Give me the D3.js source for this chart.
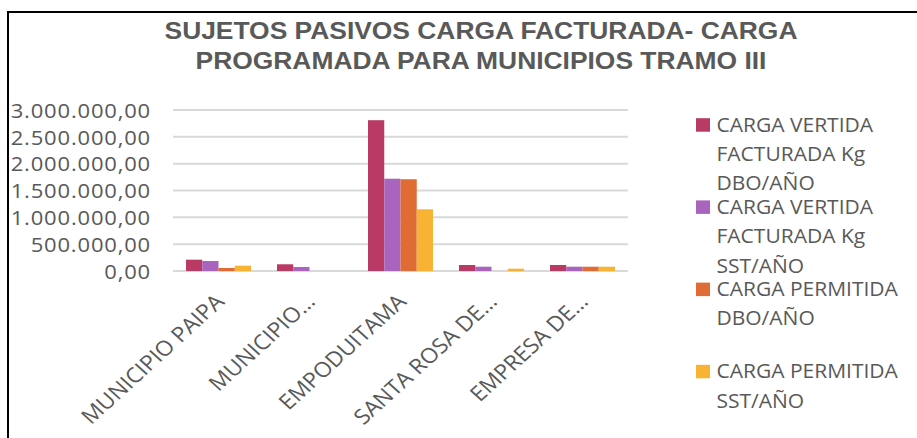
<!DOCTYPE html>
<html>
<head>
<meta charset="utf-8">
<script src="https://cdn.jsdelivr.net/npm/d3@7"></script>
<style>
  html, body { margin: 0; padding: 0; background: #fff; }
  svg { display: block; }
</style>
</head>
<body>
<div id="chart"></div>
<script>
const titleLines = ["SUJETOS PASIVOS CARGA FACTURADA- CARGA", "PROGRAMADA PARA MUNICIPIOS TRAMO III"];
const categories = ["MUNICIPIO PAIPA", "MUNICIPIO…", "EMPODUITAMA", "SANTA ROSA DE…", "EMPRESA DE…"];
const seriesNames = [
  "CARGA VERTIDA FACTURADA Kg DBO/AÑO",
  "CARGA VERTIDA FACTURADA Kg SST/AÑO",
  "CARGA PERMITIDA DBO/AÑO",
  "CARGA PERMITIDA SST/AÑO"
];
const seriesColors = ["#B83A65", "#A964BE", "#E06C35", "#F8B334"];
const dboFacturada = [211000, 125000, 2810000, 112000, 112000];
const sstFacturada = [186000, 75000, 1720000, 80000, 80000];
const dboPermitida = [56000, 0, 1710000, 0, 80000];
const sstPermitida = [99000, 0, 1150000, 43000, 80000];
const yTicks = [0, 500000, 1000000, 1500000, 2000000, 2500000, 3000000];

const seriesValues = [dboFacturada, sstFacturada, dboPermitida, sstPermitida];

const W = 917, H = 438;
const SX = 1.1; // horizontal stretch of the original picture
const ix = v => v / SX; // outer px -> inner coords

const svg = d3.select("#chart").append("svg").attr("width", W).attr("height", H);
svg.append("rect").attr("width", W).attr("height", H).attr("fill", "#fff");

// border (top and left visible)
svg.append("line").attr("x1", 8).attr("x2", W).attr("y1", 12).attr("y2", 12)
  .attr("stroke", "#000").attr("stroke-width", 2);
svg.append("line").attr("x1", 8).attr("x2", 8).attr("y1", 11).attr("y2", H)
  .attr("stroke", "#000").attr("stroke-width", 2);

const g = svg.append("g").attr("transform", `scale(${SX},1)`);

const textCol = "#595959";

// title
g.append("g").selectAll("text").data(titleLines).join("text")
  .attr("x", ix(481))
  .attr("y", (d, i) => 39.5 + i * 30)
  .attr("text-anchor", "middle")
  .attr("font-family", "'Liberation Sans', Arial, sans-serif")
  .attr("font-weight", "bold")
  .attr("font-size", 24)
  .attr("fill", textCol)
  .text(d => d);

// scales
const x = d3.scaleBand().domain(categories).range([ix(173), ix(628)]).paddingInner(0).paddingOuter(0);
const y = d3.scaleLinear().domain([0, 3000000]).range([271, 110]);
const groupFrac = 65 / 91;
const xs = d3.scaleBand().domain(d3.range(seriesNames.length))
  .range([x.bandwidth() * (1 - groupFrac) / 2, x.bandwidth() * (1 + groupFrac) / 2]).padding(0);

const locale = d3.formatLocale({ decimal: ",", thousands: ".", grouping: [3], currency: ["$", ""] });
const fmt = locale.format(",.2f");

// grid lines
g.append("g").selectAll("line").data(yTicks).join("line")
  .attr("x1", x.range()[0]).attr("x2", x.range()[1])
  .attr("y1", d => y(d)).attr("y2", d => y(d))
  .attr("stroke", "#d9d9d9").attr("stroke-width", 2);

// y axis labels
const yAxis = d3.axisLeft(y).tickValues(yTicks).tickFormat(fmt).tickSize(0).tickPadding(0);
const yg = g.append("g").attr("transform", `translate(${ix(151)},0)`).call(yAxis);
yg.select(".domain").remove();
yg.selectAll("text")
  .attr("font-family", "'Open Sans', sans-serif")
  .attr("font-size", 20)
  .attr("letter-spacing", 0.75)
  .attr("fill", textCol)
  .attr("dy", "0.36em");

// bars
const groups = g.append("g").selectAll("g").data(categories).join("g")
  .attr("transform", d => `translate(${x(d)},0)`);
groups.selectAll("rect")
  .data((c, ci) => seriesValues.map((vals, si) => ({ si, v: vals[ci] })))
  .join("rect")
  .attr("x", d => xs(d.si))
  .attr("width", xs.bandwidth())
  .attr("y", d => y(d.v))
  .attr("height", d => y(0) - y(d.v))
  .attr("fill", d => seriesColors[d.si]);

// x axis labels
const xAxis = d3.axisBottom(x).tickSize(0).tickPadding(0);
const xg = g.append("g").attr("transform", `translate(0,${y(0)})`).call(xAxis);
xg.select(".domain").remove();
xg.selectAll("text")
  .attr("font-family", "'Open Sans', sans-serif")
  .attr("font-size", 21)
  .attr("fill", textCol)
  .attr("text-anchor", "end")
  .attr("dy", 0)
  .attr("y", 0)
  .attr("transform", `translate(${ix(7)},32) rotate(-45)`);

// legend
const legend = g.append("g");
const legendMaxW = 180;
seriesNames.forEach((name, i) => {
  const baseY = 131.7 + i * 82.2;
  legend.append("rect")
    .attr("x", ix(696)).attr("y", baseY - 13.5)
    .attr("width", ix(14)).attr("height", 13.5)
    .attr("fill", seriesColors[i]);
  const t = legend.append("text")
    .attr("font-family", "'Open Sans', sans-serif")
    .attr("font-size", 19.1)
    .attr("fill", textCol);
  const words = name.split(" ");
  let lines = [], cur = [];
  const probe = t.append("tspan");
  words.forEach(w => {
    const test = cur.concat([w]).join(" ");
    probe.text(test);
    if (probe.node().getComputedTextLength() > legendMaxW && cur.length) {
      lines.push(cur.join(" "));
      cur = [w];
    } else cur.push(w);
  });
  if (cur.length) lines.push(cur.join(" "));
  probe.remove();
  lines.forEach((ln, li) => {
    t.append("tspan").attr("x", ix(716.5)).attr("y", baseY + li * 29.4).text(ln);
  });
});
</script>
</body>
</html>
